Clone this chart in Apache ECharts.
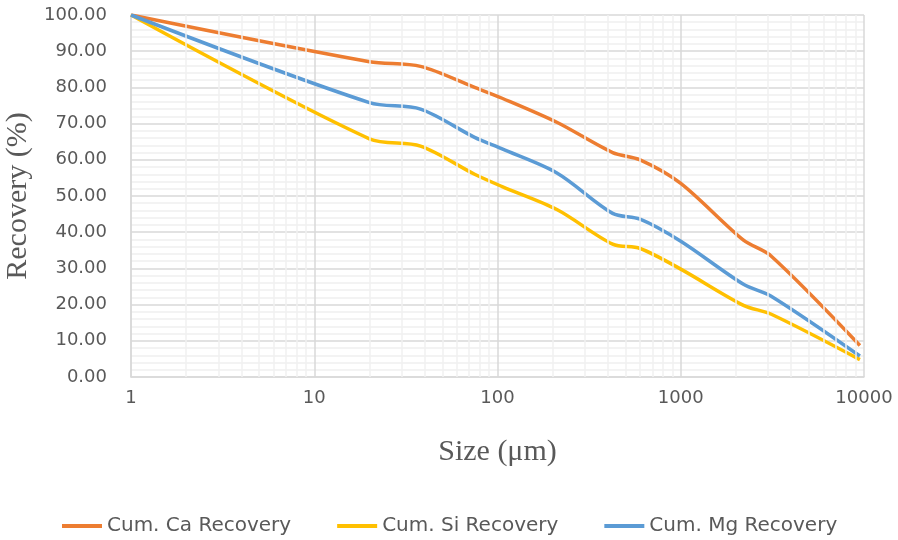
<!DOCTYPE html>
<html>
<head>
<meta charset="utf-8">
<script src="https://cdn.jsdelivr.net/npm/echarts@6/dist/echarts.min.js"></script>
<style>
    html, body { margin: 0; padding: 0; background: #fff; }
    #recoveryChart { width: 898px; height: 540px; }
</style>
</head>
<body>
<div id="recoveryChart"></div>
<script>
// 粒度 (μm)
var sizes = [1, 20, 38, 75, 106, 212, 425, 600, 1000, 2200, 3100, 9500];
// 累计回收率 (%)
var caRecovery = [100, 87.1, 85.8, 80.0, 77.0, 70.3, 62.0, 60.0, 53.5, 37.8, 33.5, 8.7];
var siRecovery = [100, 65.8, 63.8, 56.0, 52.6, 46.2, 36.7, 35.5, 29.8, 19.8, 17.4, 4.8];
var mgRecovery = [100, 75.8, 74.0, 66.2, 63.0, 56.3, 45.2, 43.6, 37.5, 25.6, 22.4, 5.8];
// 对数轴的次网格线
var minorLines = [2, 3, 4, 5, 6, 7, 8, 9, 20, 30, 40, 50, 60, 70, 80, 90,
    200, 300, 400, 500, 600, 700, 800, 900, 2000, 3000, 4000, 5000, 6000, 7000, 8000, 9000];

var seriesNames = ['Cum. Ca Recovery', 'Cum. Si Recovery', 'Cum. Mg Recovery'];
var seriesColors = ['#ED7D31', '#FFC000', '#5B9BD5'];

function toPairs(values) {
    var arr = [];
    for (var i = 0; i < sizes.length; i++) {
        arr.push([sizes[i], values[i]]);
    }
    return arr;
}

function makeLine(idx, values) {
    return {
        name : seriesNames[idx],
        type : 'line',
        smooth : 0.3,
        showSymbol : false,
        symbol : 'none',
        z : 3,
        lineStyle : {
            color : seriesColors[idx],
            width : 3.5
        },
        itemStyle : {
            color : seriesColors[idx]
        },
        data : toPairs(values)
    };
}

var minorData = [];
for (var k = 0; k < minorLines.length; k++) {
    minorData.push({ xAxis : minorLines[k] });
}

var chart = echarts.init(document.getElementById('recoveryChart'));
chart.setOption({
    animation : false,
    backgroundColor : '#ffffff',
    grid : {
        left : 131,
        right : 34,
        top : 15,
        bottom : 163,
        containLabel : false,
        outerBoundsMode : 'none'
    },
    legend : {
        data : seriesNames,
        top : 511,
        left : 57,
        icon : 'rect',
        itemWidth : 40,
        itemHeight : 4,
        itemGap : 46,
        textStyle : {
            fontFamily : 'DejaVu Sans',
            fontSize : 20,
            color : '#595959'
        }
    },
    xAxis : {
        type : 'log',
        logBase : 10,
        min : 1,
        max : 10000,
        name : 'Size (μm)',
        nameLocation : 'middle',
        nameGap : 60,
        nameTextStyle : {
            fontFamily : 'Liberation Serif',
            fontSize : 30,
            color : '#595959'
        },
        axisLine : { show : true, lineStyle : { color : '#d9d9d9', width : 1.5 } },
        axisTick : { show : false },
        axisLabel : {
            margin : 12,
            fontFamily : 'DejaVu Sans',
            fontSize : 18,
            color : '#595959',
            formatter : function(v) {
                return String(Math.round(v));
            }
        },
        splitLine : { show : true, lineStyle : { color : '#d9d9d9', width : 1.5 } }
    },
    yAxis : {
        type : 'value',
        min : 0,
        max : 100,
        interval : 10,
        name : 'Recovery (%)',
        nameLocation : 'middle',
        nameGap : 91,
        nameTextStyle : {
            fontFamily : 'Liberation Serif',
            fontSize : 30,
            color : '#595959'
        },
        axisLine : { show : true, lineStyle : { color : '#d9d9d9', width : 1.5 } },
        axisTick : { show : false },
        axisLabel : {
            margin : 24,
            fontFamily : 'DejaVu Sans',
            fontSize : 18,
            color : '#595959',
            formatter : function(v) {
                return v.toFixed(2);
            }
        },
        splitLine : { show : true, lineStyle : { color : '#d9d9d9', width : 1.5 } },
        minorTick : { show : false, splitNumber : 5 },
        minorSplitLine : { show : true, lineStyle : { color : '#f0f0f0', width : 1.5 } }
    },
    series : [ {
        name : 'minor',
        type : 'line',
        data : [],
        z : 1,
        silent : true,
        markLine : {
            silent : true,
            symbol : 'none',
            animation : false,
            label : { show : false },
            lineStyle : { color : '#f0f0f0', width : 1.5, type : 'solid' },
            data : minorData
        }
    },
        makeLine(0, caRecovery),
        makeLine(1, siRecovery),
        makeLine(2, mgRecovery)
    ]
});
</script>
</body>
</html>
